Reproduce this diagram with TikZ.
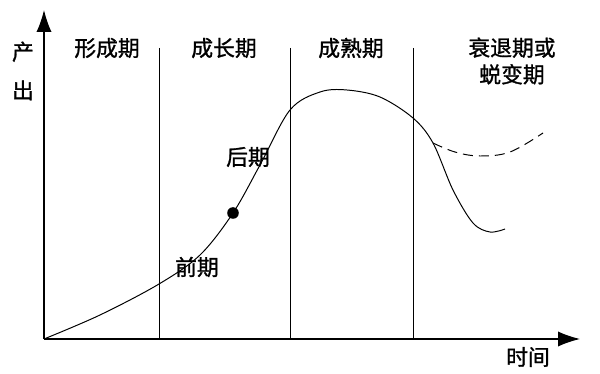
\documentclass[tikz,border=0pt]{standalone}
\usepackage{fontspec}
\newfontfamily\cjk[FakeBold=1.2]{Noto Sans CJK SC}
\usetikzlibrary{arrows.meta}

\begin{document}
\begin{tikzpicture}[font=\cjk\fontsize{15.5}{19}\selectfont,
    axis/.style={line width=0.9pt, -{Latex[length=0.55cm, width=0.38cm]}},
    divider/.style={line width=0.7pt},
    stage/.style={inner sep=1pt, align=center}]
    \useasboundingbox (-1.1, -0.875) rectangle (13.9, 8.475);

    \coordinate (o) at (0, 0);
    \coordinate (ytip) at (0, 8.225);
    \coordinate (xtip) at (13.4, 0);
    \draw[axis] (o) to (ytip);
    \draw[axis] (o) to (xtip);

    \node[stage] (output) at (-0.525, 6.7) {产\\[0.3cm]出};
    \node[stage] (time) at (12.1, -0.45) {时间};

    \coordinate (d1top) at (2.875, 7.275);
    \coordinate (d1bot) at (2.875, 0);
    \coordinate (d2top) at (6.15, 7.275);
    \coordinate (d2bot) at (6.15, 0);
    \coordinate (d3top) at (9.225, 7.275);
    \coordinate (d3bot) at (9.225, 0);
    \draw[divider] (d1top) to (d1bot);
    \draw[divider] (d2top) to (d2bot);
    \draw[divider] (d3top) to (d3bot);

    \node[stage] (forming) at (1.575, 7.275) {形成期};
    \node[stage] (growth) at (4.5, 7.275) {成长期};
    \node[stage] (mature) at (7.675, 7.275) {成熟期};
    \node[stage] (decline) at (11.7, 6.95) {衰退期或\\蜕变期};

    \node[stage] (early) at (3.825, 1.8) {前期};
    \node[stage] (late) at (5.1, 4.55) {后期};
    \node[circle, fill=black, inner sep=0pt, minimum size=0.29cm] (turn) at (4.725, 3.15) {};

    \draw[line width=0.7pt] plot[smooth, tension=0.55] coordinates {
        (0, 0) (1.4, 0.6) (2.875, 1.375) (3.9, 2.1) (4.725, 3.15) (5.4, 4.35)
        (6.15, 5.725) (6.9, 6.175) (7.575, 6.225) (8.4, 6.05) (9.225, 5.525)
        (9.725, 4.9) (10.225, 3.725) (10.725, 2.9) (11.15, 2.675) (11.525, 2.75)};
    \draw[line width=0.7pt, dash pattern=on 0.25cm off 0.15cm] plot[smooth, tension=0.6] coordinates {
        (9.725, 4.9) (10.275, 4.675) (10.9, 4.575) (11.65, 4.675) (12.475, 5.15)};
\end{tikzpicture}
\end{document}
